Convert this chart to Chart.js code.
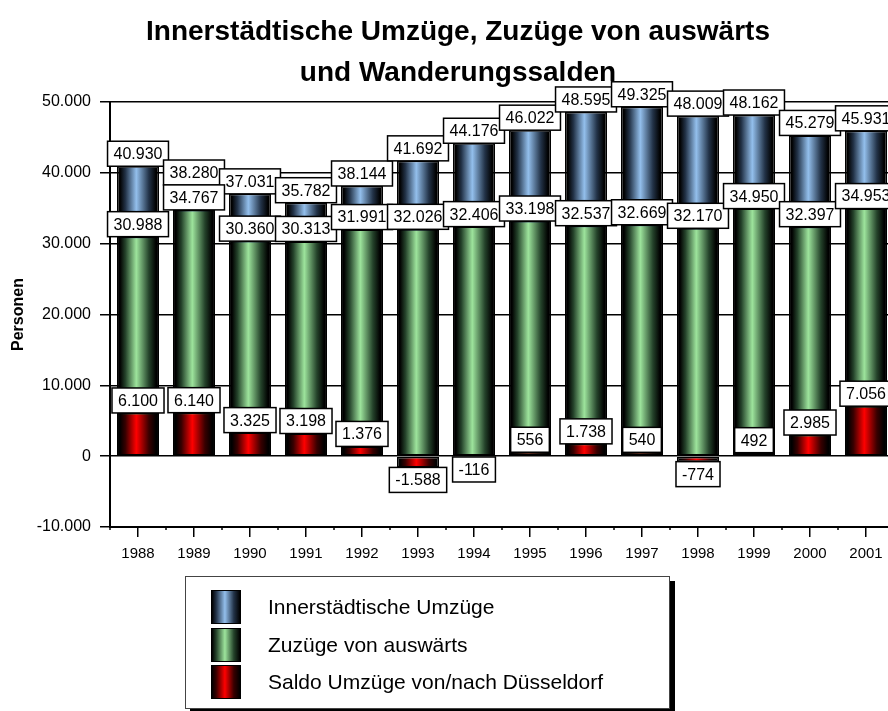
<!DOCTYPE html>
<html lang="de">
<head>
<meta charset="UTF-8">
<title>Umzüge und Wanderungssalden</title>
<script src="https://cdn.jsdelivr.net/npm/chart.js"></script>
<style>
    body { margin: 0; overflow: hidden; background: #fff; }
    .wrap { position: relative; width: 916px; height: 711px; }
    .legende {
        position: absolute; left: 185px; top: 576px; width: 483px; height: 131px;
        border: 1px solid #444; background: #fff; box-shadow: 5px 5px 0 #000;
        font-family: "Liberation Sans", Arial, sans-serif; font-size: 21px; color: #000;
    }
    .legende .eintrag { position: absolute; left: 25px; height: 34px; }
    .legende .farbe { position: absolute; left: 0; top: 0; width: 30px; height: 34px; border: 1px solid #000; box-sizing: border-box; }
    .legende .text { position: absolute; left: 57px; top: 5px; white-space: nowrap; }
</style>
</head>
<body>
<div class="wrap">
    <canvas id="umzuege" width="916" height="711"></canvas>
    <div class="legende" id="legende"></div>
</div>

<script>
    const jahre = ['1988', '1989', '1990', '1991', '1992', '1993', '1994', '1995', '1996', '1997', '1998', '1999', '2000', '2001'];
    const innerstaedtisch = [40930, 38280, 37031, 35782, 38144, 41692, 44176, 46022, 48595, 49325, 48009, 48162, 45279, 45931];
    const zuzuege = [30988, 34767, 30360, 30313, 31991, 32026, 32406, 33198, 32537, 32669, 32170, 34950, 32397, 34953];
    const saldo = [6100, 6140, 3325, 3198, 1376, -1588, -116, 556, 1738, 540, -774, 492, 2985, 7056];
    const serienNamen = ['Innerstädtische Umzüge', 'Zuzüge von auswärts', 'Saldo Umzüge von/nach Düsseldorf'];

    const yMin = -10000, yMax = 50000, yStep = 10000;
    const balkenAnteil = 0.75;

    // dunkel / hell fuer den Zylinder-Verlauf
    const farben = [
        ['#223247', '#93bfec'],
        ['#24422a', '#9de49c'],
        ['#380000', '#ff0000']
    ];

    function fmt(v) {
        const s = Math.abs(v).toString().replace(/\B(?=(\d{3})+(?!\d))/g, '.');
        return (v < 0 ? '-' : '') + s;
    }

    function balkenFuellung(dunkel, hell) {
        return (c) => {
            const chart = c.chart;
            const xs = chart.scales.x;
            if (c.type !== 'data' || !xs || !chart.chartArea) return hell;
            const cx = xs.getPixelForValue(c.dataIndex);
            const half = xs.width / jahre.length * balkenAnteil / 2;
            const g = chart.ctx.createLinearGradient(cx - half, 0, cx + half, 0);
            g.addColorStop(0, '#000');
            g.addColorStop(0.07, '#000');
            g.addColorStop(0.2, dunkel);
            g.addColorStop(0.46, hell);
            g.addColorStop(0.76, dunkel);
            g.addColorStop(0.93, '#000');
            g.addColorStop(1, '#000');
            return g;
        };
    }

    // Wertbeschriftungen in weissen Kaestchen + kleine Zwischenstriche an der x-Achse
    const beschriftung = {
        id: 'beschriftung',
        afterDatasetsDraw(chart) {
            const ctx = chart.ctx;
            ctx.save();
            ctx.font = '16px "Liberation Sans", Arial, sans-serif';
            ctx.textAlign = 'center';
            ctx.textBaseline = 'middle';
            chart.data.datasets.forEach((ds, di) => {
                const meta = chart.getDatasetMeta(di);
                meta.data.forEach((bar, i) => {
                    const wert = ds.data[i];
                    const text = fmt(wert);
                    const w = ctx.measureText(text).width + 12;
                    const h = 25;
                    const top = wert >= 0 ? bar.y - h : bar.y;
                    ctx.fillStyle = '#fff';
                    ctx.fillRect(bar.x - w / 2, top, w, h);
                    ctx.lineWidth = 1.5;
                    ctx.strokeStyle = '#000';
                    ctx.strokeRect(bar.x - w / 2, top, w, h);
                    ctx.fillStyle = '#000';
                    ctx.fillText(text, bar.x, top + h / 2 + 1);
                });
            });
            ctx.restore();
        },
        afterDraw(chart) {
            const xs = chart.scales.x;
            const ctx = chart.ctx;
            const half = xs.width / jahre.length / 2;
            ctx.save();
            ctx.strokeStyle = '#000';
            ctx.lineWidth = 1.5;
            for (let i = 0; i <= jahre.length; i++) {
                const x = xs.getPixelForValue(i) - half;
                ctx.beginPath();
                ctx.moveTo(x, xs.top);
                ctx.lineTo(x, xs.top + 3);
                ctx.stroke();
            }
            ctx.restore();
        }
    };

    Chart.defaults.font.family = '"Liberation Sans", Arial, sans-serif';
    Chart.defaults.color = '#000';

    new Chart(document.getElementById('umzuege'), {
        type: 'bar',
        data: {
            labels: jahre,
            datasets: [
                { label: serienNamen[0], data: innerstaedtisch, order: 3, backgroundColor: balkenFuellung(...farben[0]) },
                { label: serienNamen[1], data: zuzuege, order: 2, backgroundColor: balkenFuellung(...farben[1]) },
                { label: serienNamen[2], data: saldo, order: 1, backgroundColor: balkenFuellung(...farben[2]) }
            ]
        },
        options: {
            responsive: false,
            animation: false,
            datasets: {
                bar: {
                    grouped: false,
                    categoryPercentage: 1,
                    barPercentage: balkenAnteil,
                    borderColor: '#000',
                    borderWidth: 1.5,
                    borderSkipped: false
                }
            },
            layout: { padding: { left: 22, right: 22, top: 0, bottom: 144 } },
            plugins: {
                legend: { display: false },
                tooltip: { enabled: false },
                title: {
                    display: true,
                    text: ['Innerstädtische Umzüge, Zuzüge von auswärts', 'und Wanderungssalden'],
                    font: { size: 28, weight: 'bold', lineHeight: '41px' },
                    color: '#000',
                    padding: { top: 12, bottom: 8 }
                }
            },
            scales: {
                x: {
                    offset: true,
                    grid: { offset: false, drawOnChartArea: false, color: '#000', lineWidth: 1.5, tickLength: 10 },
                    border: { color: '#000', width: 2 },
                    ticks: { font: { size: 15 }, color: '#000', padding: 8, maxRotation: 0, autoSkip: false },
                    afterFit: (s) => { s.height = 40; }
                },
                y: {
                    min: yMin,
                    max: yMax,
                    ticks: { stepSize: yStep, callback: (v) => fmt(v), font: { size: 16 }, color: '#000', padding: 9 },
                    grid: { color: '#000', lineWidth: 1.5, tickLength: 10 },
                    border: { color: '#000', width: 2 },
                    title: {
                        display: true,
                        text: 'Personen',
                        font: { size: 16, weight: 'bold' },
                        color: '#000',
                        padding: { top: -13, bottom: 0 }
                    },
                    afterFit: (s) => { s.width = 88; }
                }
            }
        },
        plugins: [beschriftung]
    });

    // Legende
    const legende = document.getElementById('legende');
    const zeilenTop = [13, 51, 88];
    serienNamen.forEach((name, i) => {
        const [dunkel, hell] = farben[i];
        const e = document.createElement('div');
        e.className = 'eintrag';
        e.style.top = zeilenTop[i] + 'px';
        e.innerHTML = '<div class="farbe"></div><div class="text"></div>';
        e.querySelector('.farbe').style.background =
            `linear-gradient(to right, #000 0%, ${dunkel} 15%, ${hell} 46%, ${dunkel} 78%, #000 100%)`;
        e.querySelector('.text').textContent = name;
        legende.appendChild(e);
    });
</script>
</body>
</html>
